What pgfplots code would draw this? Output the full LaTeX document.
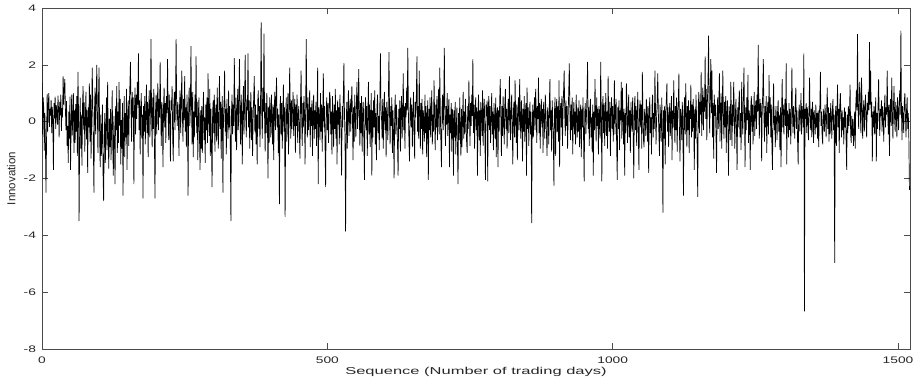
\documentclass[border=0pt]{standalone}
\usepackage{fontspec}
\setmainfont{Liberation Sans}
\usepackage{graphicx}
\usepackage{pgfplots}
\pgfplotsset{compat=1.18}
\begin{document}
\begin{tikzpicture}
\begin{axis}[
  scale only axis,
  width=868pt, height=341pt,
  xmin=0, xmax=1521, ymin=-8, ymax=4,
  xtick={0,500,1000,1500},
  ytick={-8,-6,-4,-2,0,2,4},
  tick align=inside,
  major tick length=6pt,
  axis line style={black!70, line width=0.6pt},
  every tick/.style={black!70, line width=0.6pt},
  /pgf/number format/assume math mode=true,
  /pgf/number format/1000 sep={},
  xticklabel={\scalebox{1.45}[1]{\pgfmathprintnumber{\tick}}},
  yticklabel={\scalebox{1.45}[1]{\pgfmathprintnumber{\tick}}},
  ticklabel style={font=\fontsize{9.5}{10}\selectfont, text=black!85},
  xticklabel style={yshift=-4.5pt},
  yticklabel style={xshift=-2.5pt},
  every axis x label/.style={at={(axis description cs:0.5,0)}, anchor=north, yshift=-14.5pt, font=\fontsize{10}{12}\selectfont, text=black!85},
  every axis y label/.style={at={(axis description cs:-0.0265,0.5)}, rotate=90, anchor=south, font=\fontsize{11.5}{12}\selectfont, text=black!85},
  xlabel={\scalebox{1.65}[1]{Sequence (Number of trading days)}},
  ylabel={Innovation},
]
\addplot[black, line width=0.7pt, mark=none] table[x expr=\coordindex, y index=0, header=false, row sep=\\] {
2.00\\ -0.45\\ 0.85\\ 0.50\\ -1.02\\ 0.31\\ -0.78\\ -2.50\\ -0.62\\ 0.98\\ -0.35\\ 0.62\\ 1.00\\ -0.18\\ 0.45\\ 0.21\\ 0.77\\ -0.40\\ 0.52\\ 0.08\\
-1.70\\ 0.65\\ 0.12\\ 0.88\\ -0.25\\ 0.58\\ 0.35\\ -0.10\\ 0.92\\ 0.41\\ -0.55\\ 0.70\\ 0.22\\ 0.95\\ -0.32\\ 0.48\\ 0.15\\ 1.60\\ 0.60\\ 1.15\\
1.50\\ 0.45\\ -0.30\\ 0.72\\ -0.85\\ -0.15\\ -1.45\\ 0.35\\ -0.60\\ 0.88\\ -1.70\\ -0.22\\ 0.95\\ -0.48\\ 0.20\\ 1.00\\ -1.10\\ 0.40\\ -0.75\\ 0.62\\
-0.35\\ 0.90\\ -1.20\\ 1.75\\ 0.30\\ -3.50\\ -0.40\\ 0.85\\ -0.95\\ 0.25\\ -1.55\\ 0.55\\ 1.25\\ -0.28\\ 0.68\\ -1.05\\ 0.15\\ 1.05\\ -0.62\\ 0.40\\
-1.80\\ 0.50\\ -0.20\\ 1.35\\ -0.70\\ 0.95\\ -1.30\\ 0.18\\ 1.90\\ 0.60\\ -0.85\\ -2.50\\ 0.40\\ 1.20\\ -0.45\\ 0.75\\ 2.00\\ 0.35\\ -1.10\\ 0.85\\
1.90\\ -0.50\\ -1.60\\ 0.25\\ -1.20\\ -0.40\\ 0.60\\ -1.85\\ -2.80\\ -0.70\\ 0.30\\ -1.45\\ -0.25\\ 0.85\\ -1.00\\ 1.40\\ -0.55\\ -1.65\\ 0.10\\ -0.90\\
0.45\\ -1.35\\ -0.20\\ 1.10\\ -0.85\\ -1.90\\ 0.20\\ -0.60\\ -2.20\\ 0.55\\ -0.30\\ 1.25\\ -1.10\\ 0.35\\ -0.75\\ 1.40\\ -0.15\\ 0.80\\ -1.50\\ 0.05\\
-0.95\\ 0.65\\ -2.60\\ -0.40\\ 0.90\\ -1.25\\ 0.30\\ -0.55\\ 1.15\\ -1.70\\ 0.20\\ 0.75\\ -0.85\\ 0.50\\ 1.30\\ 2.10\\ 0.40\\ -0.70\\ 1.05\\ 0.15\\
0.85\\ -2.20\\ 0.35\\ 1.20\\ -0.45\\ 0.95\\ 0.10\\ 1.40\\ 0.60\\ 2.40\\ -0.30\\ 0.75\\ -1.15\\ 0.45\\ 1.00\\ -0.60\\ 0.25\\ -2.70\\ 0.55\\ -0.35\\
0.90\\ -0.80\\ 0.30\\ 1.30\\ -0.40\\ 0.70\\ -1.25\\ 0.50\\ 1.10\\ -0.55\\ 0.35\\ 2.90\\ 0.20\\ -0.90\\ 0.85\\ -0.25\\ 1.15\\ -0.70\\ -2.70\\ 0.40\\
0.95\\ -0.45\\ 0.60\\ 1.35\\ -0.30\\ 0.80\\ 0.15\\ 2.10\\ 0.45\\ -0.85\\ 0.70\\ 0.25\\ -1.60\\ 0.55\\ 1.20\\ -0.20\\ 0.65\\ -0.75\\ 0.90\\ 0.30\\
2.20\\ 0.35\\ -0.65\\ 0.95\\ 0.10\\ -1.40\\ 0.75\\ 0.40\\ 1.25\\ -0.55\\ -1.40\\ 0.60\\ 1.05\\ -0.30\\ 0.85\\ 2.90\\ 0.45\\ -0.15\\ 0.70\\ 0.20\\
-1.20\\ 0.55\\ 1.10\\ -0.40\\ 0.65\\ 1.80\\ 0.30\\ -0.70\\ 0.80\\ 0.05\\ 1.60\\ -0.35\\ 0.50\\ -0.90\\ 0.95\\ 0.20\\ -2.60\\ 0.70\\ 1.20\\ -0.15\\
0.45\\ 2.66\\ 0.60\\ -0.80\\ 1.05\\ -1.25\\ 0.35\\ -0.55\\ 0.95\\ 0.15\\ 2.30\\ -0.40\\ 0.70\\ -1.35\\ 0.25\\ 0.85\\ -0.60\\ -1.70\\ 0.40\\ -0.95\\
0.55\\ -1.10\\ 0.30\\ 1.05\\ -0.65\\ 0.15\\ -1.45\\ 0.60\\ -0.30\\ 0.85\\ -0.75\\ 1.70\\ 0.20\\ -0.50\\ 1.15\\ -1.20\\ 0.45\\ -0.85\\ -2.30\\ 0.35\\
0.75\\ -0.40\\ 0.95\\ -1.05\\ 0.25\\ 0.60\\ -0.70\\ 1.20\\ 0.10\\ -0.95\\ 0.50\\ 1.60\\ -0.25\\ 0.70\\ -1.30\\ 0.40\\ 0.90\\ -2.50\\ 0.15\\ 0.65\\
1.80\\ -0.35\\ 0.45\\ -1.15\\ 0.80\\ 0.05\\ -0.60\\ 1.10\\ -0.20\\ 0.55\\ -0.85\\ -3.50\\ 0.30\\ 0.95\\ -0.45\\ 0.60\\ -0.15\\ 2.24\\ 0.40\\ -0.70\\
0.85\\ -1.00\\ 0.35\\ 1.15\\ -0.30\\ 0.70\\ 2.20\\ 0.10\\ -0.80\\ 0.95\\ 0.25\\ -1.50\\ 0.50\\ 1.25\\ -0.45\\ 0.65\\ 2.35\\ 0.20\\ -0.55\\ 0.80\\
0.40\\ 2.40\\ -0.20\\ 0.75\\ -0.95\\ 0.30\\ 1.05\\ -0.65\\ 0.50\\ -1.20\\ 0.15\\ 0.90\\ 1.60\\ -0.35\\ 0.60\\ -0.80\\ 0.25\\ -1.50\\ 0.70\\ 1.10\\
-0.25\\ 0.55\\ -0.90\\ 0.80\\ 3.50\\ 0.45\\ -0.60\\ 1.20\\ 0.35\\ 3.10\\ 0.20\\ -1.05\\ 0.65\\ -0.40\\ 1.00\\ 0.10\\ -2.00\\ 0.50\\ -0.75\\ 0.85\\
0.30\\ -0.55\\ 0.95\\ 0.15\\ -0.80\\ 0.60\\ -1.35\\ 0.40\\ 1.05\\ -0.30\\ 0.70\\ 1.55\\ -0.20\\ 0.45\\ -1.10\\ 0.25\\ -2.90\\ 0.55\\ 0.90\\ -0.45\\
0.65\\ -0.95\\ 0.20\\ 1.30\\ -0.35\\ 0.50\\ -3.35\\ 0.15\\ 0.85\\ -0.70\\ 0.40\\ 1.00\\ -1.15\\ 0.30\\ 1.90\\ 0.55\\ -0.60\\ 0.75\\ -0.25\\ 0.45\\
1.05\\ -0.50\\ 0.35\\ 0.80\\ -1.10\\ 0.60\\ -0.15\\ 0.95\\ -0.75\\ 0.25\\ 0.55\\ -0.40\\ -1.30\\ 0.70\\ 1.80\\ 0.10\\ -0.85\\ 0.65\\ -0.20\\ 0.90\\
0.30\\ -1.50\\ 0.45\\ 2.90\\ 0.60\\ -0.55\\ 0.85\\ -0.30\\ 0.20\\ 1.10\\ -0.90\\ 0.50\\ -0.15\\ 0.75\\ -1.20\\ 0.35\\ 0.95\\ -0.60\\ 0.40\\ -0.25\\
0.70\\ -0.85\\ 0.25\\ 1.90\\ -2.20\\ 0.50\\ 0.15\\ -0.65\\ 1.00\\ -0.35\\ 0.60\\ -1.05\\ 0.30\\ 1.70\\ -0.20\\ 0.55\\ -0.90\\ -2.30\\ 0.40\\ 0.85\\
-0.30\\ 0.65\\ -0.75\\ 0.20\\ 1.05\\ 0.80\\ -0.45\\ 0.35\\ -1.15\\ 0.90\\ 0.10\\ -0.90\\ 0.60\\ -0.25\\ 1.15\\ -0.60\\ 0.40\\ -1.50\\ 0.75\\ -0.10\\
0.50\\ -0.80\\ 0.95\\ 0.25\\ -0.40\\ -1.90\\ 0.55\\ -0.20\\ 0.85\\ 2.06\\ 0.30\\ -0.65\\ -3.87\\ -0.30\\ 0.70\\ -0.95\\ 0.45\\ 1.10\\ -0.50\\ 0.20\\
0.80\\ -0.35\\ 0.60\\ 1.25\\ 0.15\\ -1.35\\ 0.50\\ -0.70\\ 0.95\\ 0.05\\ -0.55\\ 0.75\\ 1.40\\ -0.25\\ 0.45\\ 1.85\\ 0.30\\ -0.85\\ 0.65\\ -0.40\\
0.90\\ -1.05\\ 0.20\\ 0.70\\ -0.60\\ -2.05\\ 0.35\\ 0.85\\ -0.30\\ 0.55\\ -1.20\\ 0.15\\ 1.40\\ -0.45\\ 0.60\\ -0.90\\ 0.25\\ 1.00\\ -1.90\\ 0.40\\
-0.55\\ 0.75\\ -0.20\\ 1.10\\ -0.80\\ 0.30\\ -1.35\\ 0.55\\ 0.95\\ -0.40\\ 0.20\\ -1.00\\ 0.65\\ 2.40\\ 0.45\\ 0.10\\ -0.60\\ 0.80\\ -0.95\\ 0.35\\
1.05\\ -0.30\\ 0.50\\ -1.25\\ 0.70\\ 0.15\\ -0.65\\ 0.90\\ 2.45\\ 0.25\\ -0.80\\ 0.55\\ -0.15\\ 0.85\\ -1.10\\ 0.40\\ -0.50\\ -2.00\\ 0.30\\ 0.95\\
-0.45\\ 0.60\\ 0.10\\ -0.85\\ -1.90\\ 0.45\\ -0.25\\ 0.75\\ -1.05\\ 0.35\\ 0.90\\ -0.60\\ 0.20\\ 1.70\\ -0.30\\ 0.55\\ -0.95\\ 0.65\\ 0.15\\ 1.20\\
0.40\\ 2.60\\ 0.35\\ -0.70\\ -1.40\\ 0.50\\ 0.85\\ -0.20\\ 0.60\\ -0.90\\ 0.25\\ 1.05\\ -0.45\\ -1.30\\ 0.70\\ 0.15\\ 0.95\\ 2.30\\ -0.35\\ 0.55\\
-0.60\\ 1.80\\ 0.30\\ -0.95\\ 0.65\\ -0.25\\ 0.80\\ -1.15\\ 0.40\\ 0.10\\ -0.70\\ 0.95\\ -0.40\\ 0.55\\ -1.25\\ 0.20\\ 0.75\\ -2.05\\ 0.45\\ -0.30\\
0.85\\ -0.55\\ 0.35\\ 1.10\\ -0.80\\ 0.25\\ -0.35\\ 1.45\\ 0.15\\ -1.00\\ 0.60\\ -0.20\\ 0.90\\ -0.65\\ 0.40\\ 1.15\\ -0.45\\ 1.90\\ 0.30\\ -0.75\\
-1.60\\ 0.50\\ 0.95\\ -0.30\\ 0.70\\ 2.60\\ 0.20\\ -0.85\\ 0.55\\ -0.10\\ 1.00\\ -0.50\\ 0.35\\ 0.80\\ -1.60\\ 0.25\\ -0.40\\ 0.65\\ -1.05\\ 0.45\\
0.15\\ -1.90\\ 0.40\\ -0.55\\ 0.70\\ -1.15\\ -0.20\\ 0.50\\ -0.85\\ -2.20\\ 0.30\\ -0.65\\ 0.85\\ -0.35\\ -1.20\\ 0.45\\ -0.90\\ 0.20\\ 1.05\\ -0.60\\
0.35\\ -0.45\\ 0.80\\ 0.10\\ -0.70\\ -1.10\\ 0.55\\ -0.25\\ 1.45\\ 0.30\\ -0.85\\ 0.65\\ -0.15\\ 0.95\\ 0.20\\ 2.20\\ -0.40\\ 0.60\\ -0.95\\ 0.45\\
0.85\\ -0.30\\ 0.50\\ -1.90\\ 0.25\\ 0.95\\ -0.65\\ 0.40\\ -1.20\\ 0.70\\ 0.15\\ -0.50\\ 1.10\\ -0.85\\ 0.35\\ 0.80\\ -0.40\\ -2.05\\ 0.60\\ 0.20\\
0.75\\ -2.10\\ 0.45\\ 0.90\\ -0.30\\ 0.55\\ -0.75\\ 0.25\\ 1.00\\ -0.45\\ 0.35\\ -1.00\\ 0.65\\ 0.10\\ -0.60\\ 0.85\\ -1.25\\ 0.30\\ 0.50\\ -1.60\\
0.40\\ -0.35\\ 0.70\\ 1.50\\ 0.20\\ -1.20\\ 0.55\\ -0.50\\ 0.90\\ 0.05\\ -0.80\\ 0.60\\ 1.15\\ -0.25\\ 0.45\\ -0.95\\ 0.30\\ 0.80\\ -0.40\\ 1.60\\
0.25\\ -0.65\\ 0.50\\ 0.95\\ -0.20\\ -1.50\\ 0.35\\ 0.70\\ -0.55\\ 1.45\\ 0.10\\ -0.75\\ 0.60\\ -1.35\\ 0.40\\ 0.85\\ -0.30\\ 1.50\\ 0.15\\ -0.60\\
0.75\\ 0.20\\ -1.40\\ 0.45\\ -0.35\\ 0.90\\ -0.70\\ 0.30\\ 0.65\\ -1.90\\ 1.20\\ -0.25\\ 0.50\\ -0.85\\ 0.15\\ 0.70\\ -0.45\\ 0.35\\ -3.57\\ -0.20\\
0.60\\ -0.55\\ 0.25\\ 0.85\\ -0.30\\ 1.15\\ 0.40\\ -0.75\\ 0.55\\ 0.10\\ 1.55\\ -0.40\\ 0.65\\ -0.95\\ 0.30\\ 0.80\\ -0.20\\ 0.45\\ -1.10\\ 0.70\\
0.15\\ -0.60\\ 0.95\\ 0.35\\ -0.45\\ -1.20\\ 0.50\\ 0.20\\ -0.80\\ 0.60\\ 1.50\\ -0.30\\ 0.40\\ -1.05\\ 0.75\\ 0.10\\ -0.55\\ -2.25\\ 0.35\\ 0.85\\
-1.20\\ 0.45\\ 0.80\\ -0.35\\ 0.55\\ -0.70\\ 1.45\\ -1.60\\ 0.30\\ 0.65\\ -0.20\\ 0.90\\ -0.85\\ 0.40\\ 1.10\\ 1.80\\ 0.25\\ -0.50\\ 0.75\\ -0.15\\
0.55\\ -0.95\\ 0.30\\ 1.05\\ 2.05\\ 0.40\\ -0.65\\ 0.60\\ -0.30\\ 0.85\\ -1.15\\ 0.20\\ 0.70\\ -0.45\\ 0.35\\ -0.80\\ 0.95\\ 0.10\\ -0.55\\ 0.50\\
-0.35\\ 0.75\\ -0.90\\ 0.25\\ 0.60\\ -1.25\\ 0.45\\ -0.20\\ 0.85\\ -0.60\\ -2.10\\ 0.30\\ 0.65\\ -0.45\\ 0.20\\ 0.95\\ 2.10\\ -0.25\\ 0.50\\ -0.85\\
0.40\\ 0.80\\ -0.55\\ 0.15\\ -1.05\\ 0.60\\ -1.90\\ 0.35\\ -0.30\\ 1.50\\ 0.20\\ -0.70\\ 0.85\\ -0.15\\ 0.45\\ -1.15\\ 0.55\\ 0.10\\ -0.60\\ 2.10\\
0.30\\ -2.10\\ 0.45\\ 0.90\\ -0.40\\ 0.65\\ -0.85\\ 0.25\\ 1.00\\ -0.50\\ 0.35\\ -0.95\\ 1.60\\ 0.15\\ -0.35\\ 0.70\\ -1.20\\ 0.40\\ 0.85\\ -0.25\\
0.55\\ -0.70\\ 0.20\\ 1.45\\ -0.45\\ 0.35\\ 0.80\\ -0.90\\ -2.05\\ 0.50\\ -0.25\\ 0.75\\ -1.00\\ 0.40\\ 0.05\\ 1.40\\ -0.60\\ 1.20\\ 0.25\\ -0.80\\
0.45\\ -1.90\\ 0.30\\ -0.40\\ 1.35\\ 0.60\\ -0.75\\ 0.20\\ 0.95\\ -0.55\\ 0.40\\ -1.10\\ 0.70\\ 0.15\\ -0.35\\ 0.85\\ -0.60\\ -2.00\\ 0.50\\ 0.90\\
-0.30\\ 0.55\\ -0.85\\ 0.25\\ 1.05\\ -0.45\\ -1.70\\ 0.40\\ 0.75\\ -0.20\\ 0.60\\ -0.95\\ 1.75\\ 0.35\\ -0.65\\ -0.90\\ 0.45\\ 0.10\\ -0.50\\ 0.80\\
0.25\\ -0.70\\ 0.55\\ -1.80\\ 0.35\\ 0.85\\ -0.40\\ 0.15\\ -1.15\\ 0.60\\ 0.95\\ -0.55\\ 0.30\\ -0.25\\ 1.80\\ 0.45\\ -0.80\\ 0.20\\ 0.70\\ 1.70\\
0.35\\ -0.45\\ -1.20\\ 0.60\\ 0.10\\ -0.70\\ 0.85\\ -0.25\\ -3.20\\ 0.40\\ -0.60\\ 0.55\\ -1.50\\ 0.30\\ 0.75\\ 1.35\\ -0.35\\ 0.50\\ -0.90\\ 0.20\\
0.65\\ -0.50\\ 0.25\\ 0.90\\ -1.35\\ 0.40\\ -0.20\\ 1.45\\ 0.15\\ -0.75\\ 0.55\\ -0.30\\ 0.85\\ -1.05\\ 0.35\\ 0.60\\ 1.70\\ -0.40\\ -1.40\\ 0.45\\
0.20\\ -0.65\\ 0.70\\ -0.15\\ -2.60\\ 0.35\\ 0.85\\ -0.45\\ 1.35\\ 0.25\\ -0.90\\ 0.55\\ -0.30\\ 0.75\\ -1.10\\ 0.40\\ 0.10\\ 1.30\\ -0.55\\ 0.60\\
-0.35\\ 0.80\\ 0.20\\ -1.70\\ 0.45\\ -0.60\\ 0.95\\ 0.15\\ -0.85\\ -2.65\\ 0.50\\ 1.05\\ -0.40\\ 0.70\\ 0.25\\ 1.75\\ -0.50\\ 0.60\\ 1.20\\ -0.30\\
0.85\\ 0.35\\ 2.30\\ 0.10\\ 1.15\\ -0.65\\ 0.75\\ 1.40\\ 3.03\\ 0.50\\ -0.40\\ 1.10\\ 2.20\\ 0.30\\ 1.80\\ -0.55\\ 0.65\\ -1.30\\ 0.95\\ 0.20\\
0.60\\ -0.45\\ -1.80\\ 0.40\\ 0.85\\ -0.25\\ 0.55\\ 1.70\\ -0.70\\ 0.30\\ 1.00\\ -0.95\\ 0.45\\ 1.80\\ 0.15\\ -0.60\\ 0.70\\ -0.20\\ 0.90\\ -1.10\\
0.35\\ 0.75\\ -0.40\\ -1.90\\ 0.55\\ 0.20\\ -0.65\\ 1.40\\ 0.30\\ -0.85\\ 0.60\\ -0.15\\ 1.40\\ 0.45\\ -0.95\\ 0.25\\ 0.80\\ -0.35\\ -1.70\\ 0.50\\
-0.20\\ 0.65\\ 1.10\\ -0.55\\ 0.30\\ -1.00\\ 1.40\\ 0.15\\ -0.45\\ 0.75\\ 1.90\\ 0.25\\ -1.60\\ 0.50\\ -0.30\\ 0.85\\ 0.05\\ 1.65\\ -0.75\\ 0.40\\
0.20\\ -1.70\\ 0.55\\ 0.90\\ -0.35\\ 0.60\\ -0.80\\ 0.30\\ 1.05\\ -0.50\\ 0.45\\ 0.75\\ -0.25\\ 0.95\\ 0.35\\ 2.70\\ 0.50\\ -0.60\\ 0.80\\ 0.15\\
0.65\\ -1.40\\ 0.40\\ 1.05\\ 2.20\\ 0.25\\ -0.70\\ 0.55\\ -0.20\\ 0.90\\ -1.10\\ 0.35\\ 0.70\\ -0.45\\ 1.64\\ 0.30\\ 0.85\\ -0.55\\ 0.60\\ -0.90\\
-1.70\\ 0.45\\ 1.35\\ -0.30\\ 0.20\\ -0.90\\ 0.55\\ 0.10\\ -0.65\\ 0.40\\ 0.75\\ -0.35\\ 0.25\\ -1.00\\ 0.50\\ -1.60\\ 0.35\\ 1.50\\ -0.20\\ 0.60\\
-0.45\\ 0.30\\ 0.80\\ -0.15\\ 2.05\\ -1.50\\ 0.40\\ 0.15\\ -0.55\\ 0.65\\ -0.30\\ 0.45\\ -0.80\\ 0.20\\ 1.90\\ 0.35\\ -0.40\\ 0.55\\ 0.05\\ -0.60\\
0.70\\ 1.20\\ -0.25\\ 0.40\\ -0.70\\ -1.50\\ 0.30\\ 0.60\\ -0.35\\ 0.15\\ 1.00\\ -0.45\\ 0.55\\ 0.25\\ -0.20\\ 2.40\\ -6.68\\ 0.45\\ 0.10\\ 0.65\\
-0.40\\ 0.50\\ 0.20\\ -0.65\\ 0.35\\ 1.55\\ 0.10\\ -0.30\\ 0.45\\ -0.55\\ 0.70\\ 0.25\\ -0.75\\ 0.40\\ 0.05\\ -0.45\\ 0.60\\ -0.20\\ 0.30\\ -0.60\\
0.40\\ -0.90\\ 0.25\\ 0.55\\ 1.75\\ -0.15\\ 0.35\\ -0.50\\ -0.80\\ 0.45\\ 0.15\\ -0.35\\ 0.60\\ 0.20\\ -0.55\\ 0.40\\ 1.20\\ -0.25\\ 0.50\\ -0.70\\
0.30\\ -0.45\\ 0.65\\ 0.10\\ -0.60\\ 0.45\\ 0.80\\ -0.30\\ 0.25\\ -4.97\\ 0.15\\ 0.55\\ -0.85\\ 0.35\\ 1.30\\ -0.20\\ 0.45\\ -1.10\\ 0.60\\ 1.00\\
0.20\\ -0.55\\ 0.40\\ -0.30\\ 0.15\\ -0.80\\ 0.50\\ -0.20\\ 0.35\\ -0.65\\ -1.70\\ 0.25\\ -0.40\\ 0.55\\ -0.15\\ 0.30\\ 1.30\\ -0.45\\ -0.75\\ 0.20\\
-0.50\\ 0.10\\ -0.85\\ -0.30\\ 0.35\\ -0.95\\ 0.60\\ 1.10\\ 0.40\\ 3.08\\ 0.55\\ -0.25\\ 0.85\\ 1.40\\ 0.20\\ -0.40\\ 1.55\\ 0.65\\ -0.60\\ 0.30\\
0.75\\ -0.35\\ 0.45\\ 0.95\\ 0.10\\ -0.55\\ 0.65\\ 0.25\\ 1.05\\ 0.40\\ 2.80\\ 0.60\\ 1.80\\ 0.15\\ 0.70\\ -1.40\\ 0.35\\ -0.20\\ 0.55\\ -0.45\\
0.40\\ 0.85\\ -1.40\\ 0.30\\ -0.25\\ 0.60\\ 1.50\\ 0.20\\ -0.50\\ 0.45\\ 0.20\\ 0.75\\ -0.35\\ 0.55\\ 0.10\\ -0.70\\ 0.40\\ 0.95\\ -0.20\\ 0.50\\
0.25\\ 1.80\\ 0.30\\ -0.45\\ 0.60\\ -1.20\\ 0.35\\ 0.80\\ -0.15\\ 1.55\\ 0.40\\ -0.60\\ 0.55\\ 1.25\\ 0.10\\ -0.35\\ 0.70\\ 0.20\\ -0.55\\ 0.85\\
0.45\\ -0.30\\ 0.60\\ 1.10\\ 0.25\\ 3.20\\ 0.40\\ -0.65\\ 0.55\\ 0.15\\ -0.40\\ 0.70\\ 1.00\\ 0.20\\ -0.55\\ 0.45\\ 0.85\\ -0.25\\ 0.30\\ -0.60\\
-2.40\\
};
\end{axis}
\pgfresetboundingbox
\path ([shift={(-42pt,-32pt)}]current axis.south west) rectangle ([shift={(7pt,8pt)}]current axis.north east);
\end{tikzpicture}
\end{document}
